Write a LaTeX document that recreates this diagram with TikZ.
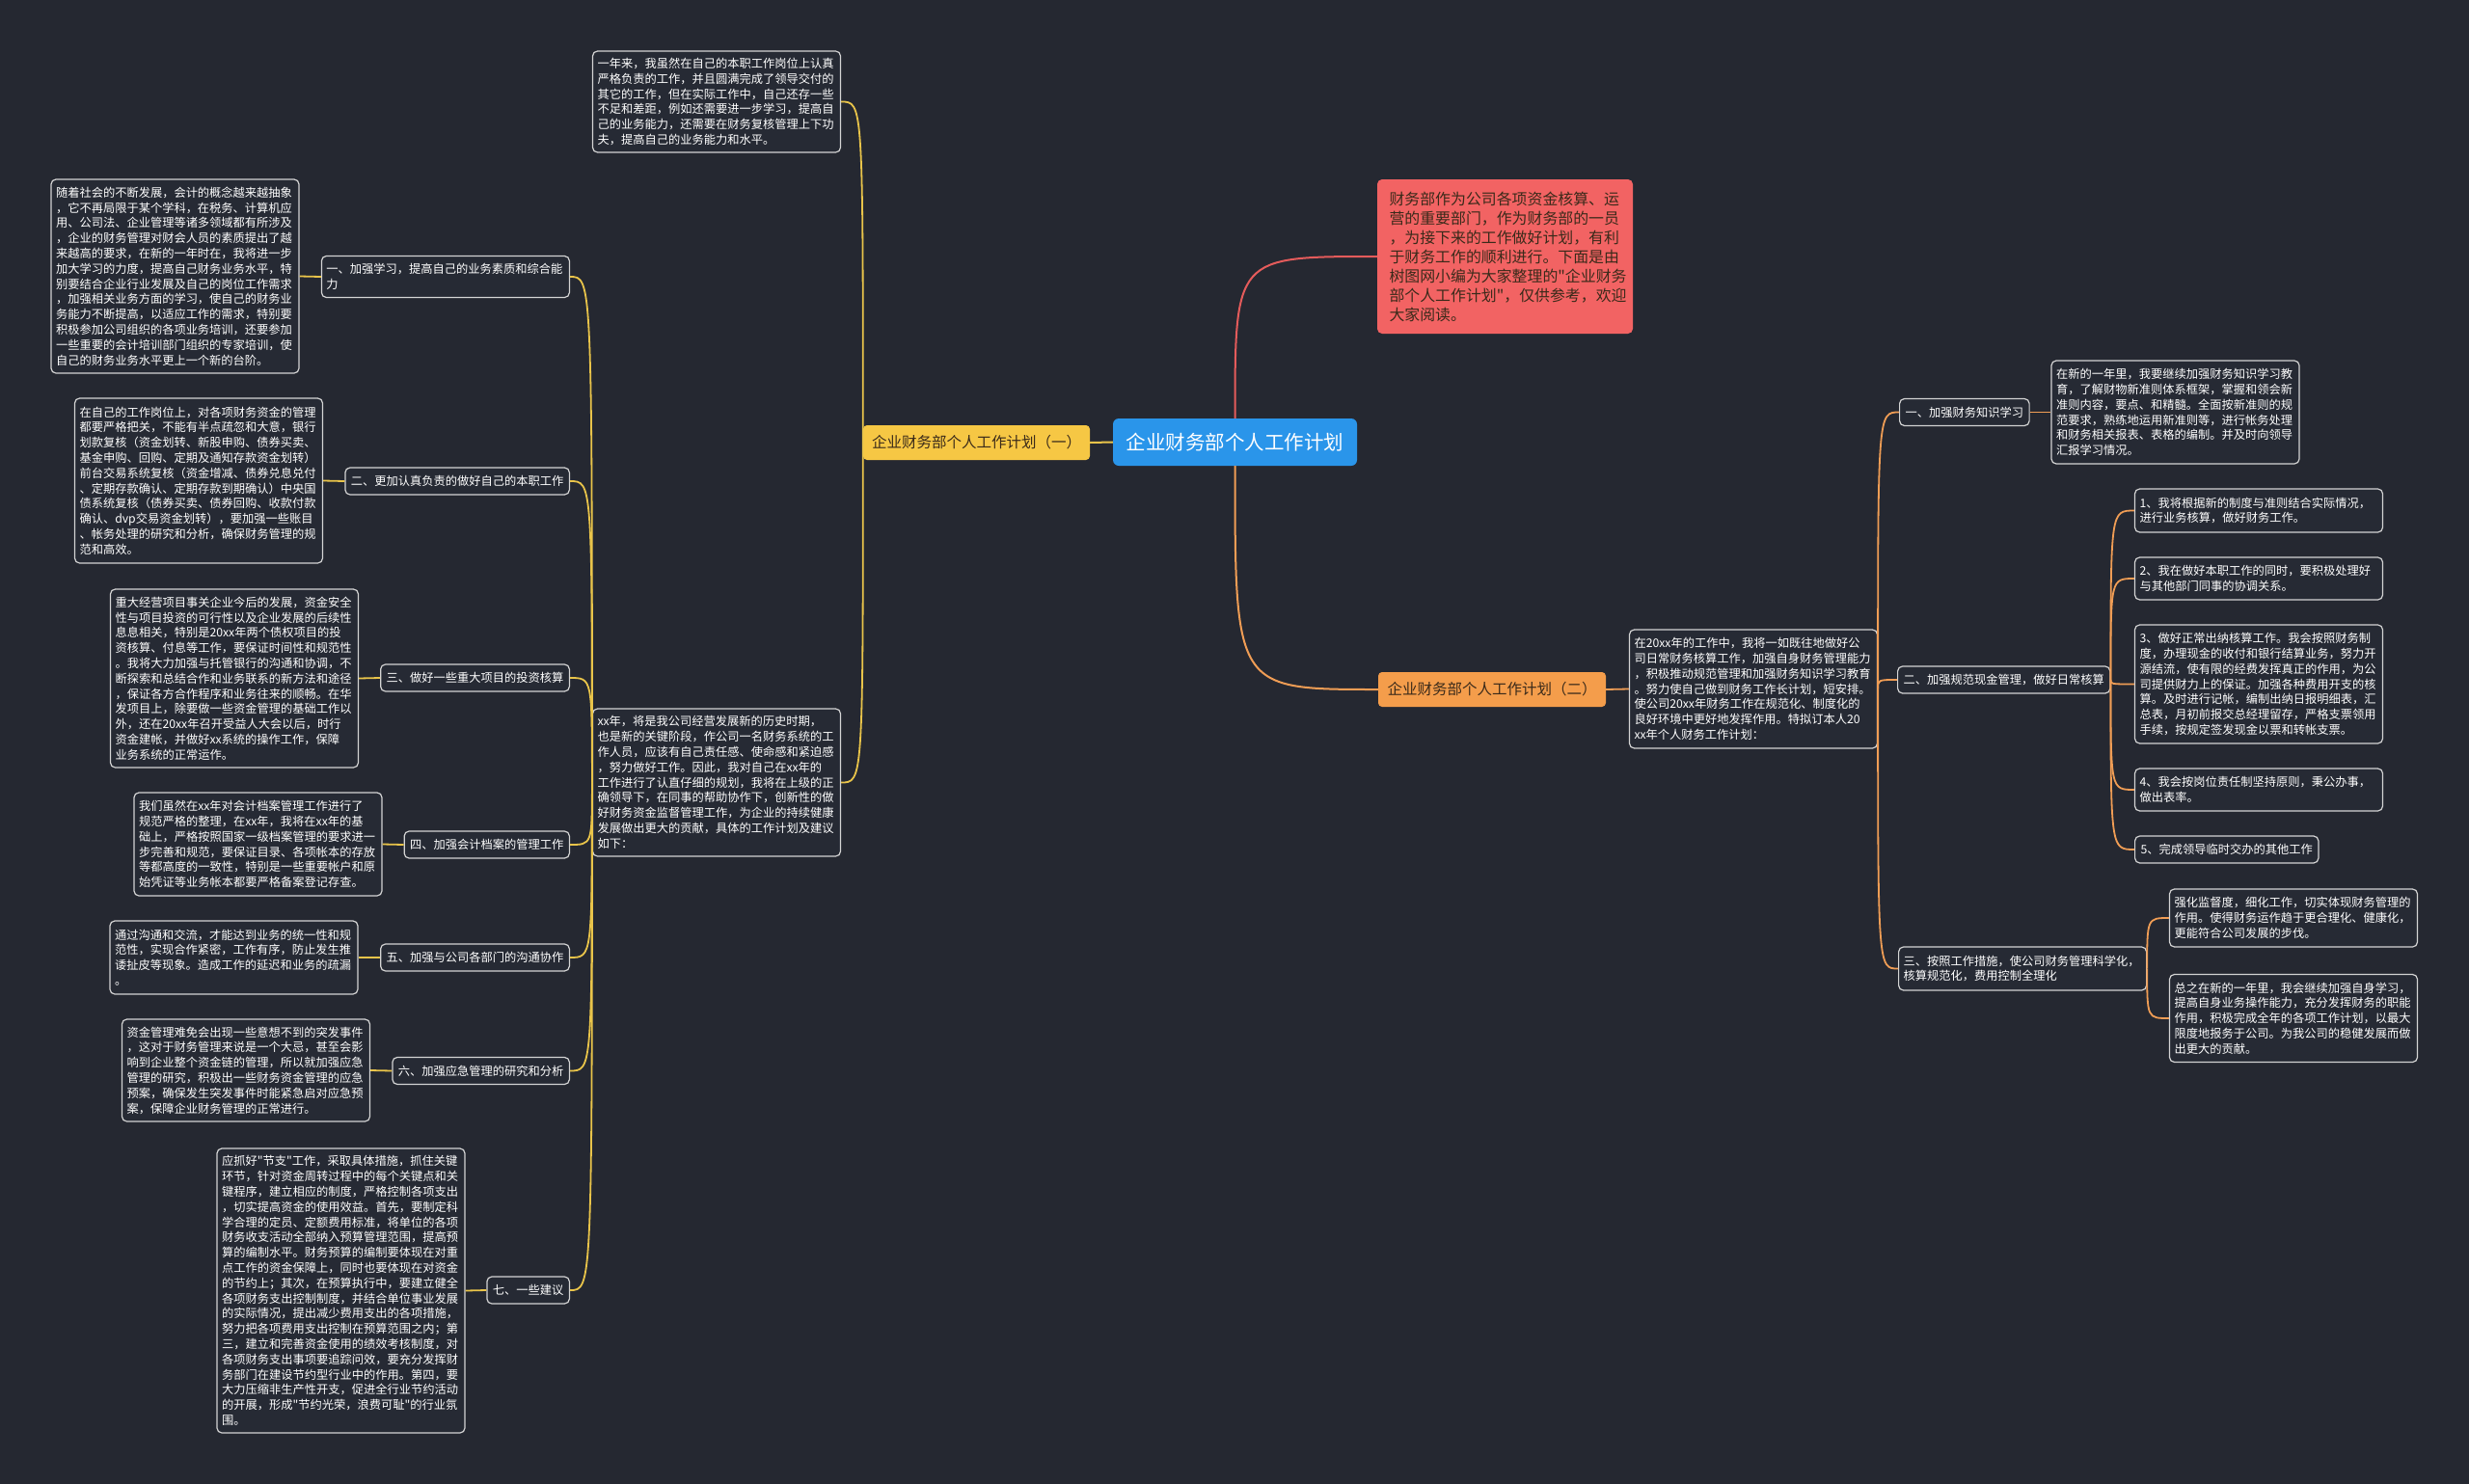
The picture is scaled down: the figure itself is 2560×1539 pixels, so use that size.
\documentclass[tikz,border=0pt]{standalone}
\usepackage{fontspec}
\newfontfamily\cjk{Noto Sans CJK SC}
\definecolor{bg}{HTML}{252831}
\definecolor{boxfill}{HTML}{262A34}
\definecolor{boxline}{HTML}{D4D4D4}
\definecolor{ylw}{HTML}{E9C44A}
\definecolor{org}{HTML}{F09D55}
\definecolor{rdl}{HTML}{E45B5B}
\definecolor{rootfill}{HTML}{2A95EA}
\definecolor{yelfill}{HTML}{F6C744}
\definecolor{orgfill}{HTML}{F49D4B}
\definecolor{redfill}{HTML}{F26363}
\definecolor{darktxt}{HTML}{3A2A1A}
\tikzset{
  blk/.style={draw=boxline, fill=boxfill, rounded corners=5pt, line width=1.2pt, text=white,
    font=\cjk\fontsize{12.25pt}{15.8pt}\selectfont, align=left, inner xsep=5pt, inner ysep=3pt},
  para/.style={blk, text width=247pt},
  lab/.style={blk, minimum height=28pt, inner xsep=6pt},
  yl/.style={draw=ylw, line width=1.8pt},
  ol/.style={draw=org, line width=1.8pt},
  rl/.style={draw=rdl, line width=2pt}
}
\begin{document}
\begin{tikzpicture}[x=1pt,y=-1pt]
\fill[bg] (0,0) rectangle (2560,1539);
\useasboundingbox (0,0) rectangle (2560,1539);

% root and main branches
\node[fill=rootfill, rounded corners=6pt, text=white, font=\cjk\fontsize{20.5pt}{24pt}\selectfont,
  minimum width=253pt, minimum height=49pt, inner sep=0pt] (root) at (1280.5,458.5) {企业财务部个人工作计划};
\node[fill=yelfill, rounded corners=4pt, text=darktxt, font=\cjk\fontsize{15.5pt}{18pt}\selectfont,
  minimum width=235pt, minimum height=36pt, inner sep=0pt] (yel) at (1012.5,459) {企业财务部个人工作计划（一）};
\node[fill=orgfill, rounded corners=4pt, text=darktxt, font=\cjk\fontsize{15.5pt}{18pt}\selectfont,
  minimum width=236pt, minimum height=36pt, inner sep=0pt] (orgn) at (1547,715) {企业财务部个人工作计划（二）};
\node[fill=redfill, rounded corners=5pt, text=darktxt, font=\cjk\fontsize{15.9pt}{20pt}\selectfont,
  align=left, text width=240pt, inner xsep=12.5pt, inner ysep=3pt, minimum height=160pt] (red) at (1560.5,266) {财务部作为公司各项资金核算、运\\营的重要部门，作为财务部的一员\\，为接下来的工作做好计划，有利\\于财务工作的顺利进行。下面是由\\树图网小编为大家整理的"企业财务\\部个人工作计划"，仅供参考，欢迎\\大家阅读。};

% yellow branch
\node[para, minimum height=105pt] (T0) at (743,105.5) {一年来，我虽然在自己的本职工作岗位上认真\\严格负责的工作，并且圆满完成了领导交付的\\其它的工作，但在实际工作中，自己还存一些\\不足和差距，例如还需要进一步学习，提高自\\己的业务能力，还需要在财务复核管理上下功\\夫，提高自己的业务能力和水平。};
\node[para, minimum height=153pt] (C) at (743,811.5) {xx年，将是我公司经营发展新的历史时期，\\也是新的关键阶段，作公司一名财务系统的工\\作人员，应该有自己责任感、使命感和紧迫感\\，努力做好工作。因此，我对自己在xx年的\\工作进行了认直仔细的规划，我将在上级的正\\确领导下，在同事的帮助协作下，创新性的做\\好财务资金监督管理工作，为企业的持续健康\\发展做出更大的贡献，具体的工作计划及建议\\如下：};

\node[para, minimum height=43pt, anchor=east] (n1) at (591,287) {一、加强学习，提高自己的业务素质和综合能\\力};
\node[para, minimum height=201pt] (L1) at (181.5,286.5) {随着社会的不断发展，会计的概念越来越抽象\\，它不再局限于某个学科，在税务、计算机应\\用、公司法、企业管理等诸多领域都有所涉及\\，企业的财务管理对财会人员的素质提出了越\\来越高的要求，在新的一年时在，我将进一步\\加大学习的力度，提高自己财务业务水平，特\\别要结合企业行业发展及自己的岗位工作需求\\，加强相关业务方面的学习，使自己的财务业\\务能力不断提高，以适应工作的需求，特别要\\积极参加公司组织的各项业务培训，还要参加\\一些重要的会计培训部门组织的专家培训，使\\自己的财务业务水平更上一个新的台阶。};

\node[lab, anchor=east] (n2) at (591,499) {二、更加认真负责的做好自己的本职工作};
\node[para, minimum height=171pt] (L2) at (206,498.5) {在自己的工作岗位上，对各项财务资金的管理\\都要严格把关，不能有半点疏忽和大意，银行\\划款复核（资金划转、新股申购、债券买卖、\\基金申购、回购、定期及通知存款资金划转）\\前台交易系统复核（资金增减、债券兑息兑付\\、定期存款确认、定期存款到期确认）中央国\\债系统复核（债券买卖、债券回购、收款付款\\确认、dvp交易资金划转），要加强一些账目\\、帐务处理的研究和分析，确保财务管理的规\\范和高效。};

\node[lab, anchor=east] (n3) at (591,703) {三、做好一些重大项目的投资核算};
\node[para, minimum height=185pt] (L3) at (243,703.5) {重大经营项目事关企业今后的发展，资金安全\\性与项目投资的可行性以及企业发展的后续性\\息息相关，特别是20xx年两个债权项目的投\\资核算、付息等工作，要保证时间性和规范性\\。我将大力加强与托管银行的沟通和协调，不\\断探索和总结合作和业务联系的新方法和途径\\，保证各方合作程序和业务往来的顺畅。在华\\发项目上，除要做一些资金管理的基础工作以\\外，还在20xx年召开受益人大会以后，时行\\资金建帐，并做好xx系统的操作工作，保障\\业务系统的正常运作。};

\node[lab, anchor=east] (n4) at (591,876) {四、加强会计档案的管理工作};
\node[para, minimum height=107pt] (L4) at (267.5,875.5) {我们虽然在xx年对会计档案管理工作进行了\\规范严格的整理，在xx年，我将在xx年的基\\础上，严格按照国家一级档案管理的要求进一\\步完善和规范，要保证目录、各项帐本的存放\\等都高度的一致性，特别是一些重要帐户和原\\始凭证等业务帐本都要严格备案登记存查。};

\node[lab, anchor=east] (n5) at (591,993) {五、加强与公司各部门的沟通协作};
\node[para, minimum height=76pt] (L5) at (242.5,993) {通过沟通和交流，才能达到业务的统一性和规\\范性，实现合作紧密，工作有序，防止发生推\\诿扯皮等现象。造成工作的延迟和业务的疏漏\\。};

\node[lab, anchor=east] (n6) at (591,1110.5) {六、加强应急管理的研究和分析};
\node[para, minimum height=106pt] (L6) at (255,1110) {资金管理难免会出现一些意想不到的突发事件\\，这对于财务管理来说是一个大忌，甚至会影\\响到企业整个资金链的管理，所以就加强应急\\管理的研究，积极出一些财务资金管理的应急\\预案，确保发生突发事件时能紧急启对应急预\\案，保障企业财务管理的正常进行。};

\node[lab, anchor=east] (n7) at (591,1338) {七、一些建议};
\node[para, minimum height=295pt] (L7) at (353.5,1338.5) {应抓好"节支"工作，采取具体措施，抓住关键\\环节，针对资金周转过程中的每个关键点和关\\键程序，建立相应的制度，严格控制各项支出\\，切实提高资金的使用效益。首先，要制定科\\学合理的定员、定额费用标准，将单位的各项\\财务收支活动全部纳入预算管理范围，提高预\\算的编制水平。财务预算的编制要体现在对重\\点工作的资金保障上，同时也要体现在对资金\\的节约上；其次，在预算执行中，要建立健全\\各项财务支出控制制度，并结合单位事业发展\\的实际情况，提出减少费用支出的各项措施，\\努力把各项费用支出控制在预算范围之内；第\\三，建立和完善资金使用的绩效考核制度，对\\各项财务支出事项要追踪问效，要充分发挥财\\务部门在建设节约型行业中的作用。第四，要\\大力压缩非生产性开支，促进全行业节约活动\\的开展，形成"节约光荣，浪费可耻"的行业氛\\围。};

% orange branch
\node[para, minimum height=123pt] (R) at (1818,714.5) {在20xx年的工作中，我将一如既往地做好公\\司日常财务核算工作，加强自身财务管理能力\\，积极推动规范管理和加强财务知识学习教育\\。努力使自己做到财务工作长计划，短安排。\\使公司20xx年财务工作在规范化、制度化的\\良好环境中更好地发挥作用。特拟订本人20\\xx年个人财务工作计划：};

\node[lab, anchor=west] (R1) at (1969,427.5) {一、加强财务知识学习};
\node[para, minimum height=107pt] (R1t) at (2255.5,427.5) {在新的一年里，我要继续加强财务知识学习教\\育，了解财物新准则体系框架，掌握和领会新\\准则内容，要点、和精髓。全面按新准则的规\\范要求，熟练地运用新准则等，进行帐务处理\\和财务相关报表、表格的编制。并及时向领导\\汇报学习情况。};

\node[lab, anchor=west] (R2) at (1967,705) {二、加强规范现金管理，做好日常核算};
\node[para, minimum height=45pt] (i1) at (2342,529.5) {1、我将根据新的制度与准则结合实际情况，\\进行业务核算，做好财务工作。};
\node[para, minimum height=44pt] (i2) at (2342,600) {2、我在做好本职工作的同时，要积极处理好\\与其他部门同事的协调关系。};
\node[para, minimum height=123pt] (i3) at (2342,709.5) {3、做好正常出纳核算工作。我会按照财务制\\度，办理现金的收付和银行结算业务，努力开\\源结流，使有限的经费发挥真正的作用，为公\\司提供财力上的保证。加强各种费用开支的核\\算。及时进行记帐，编制出纳日报明细表，汇\\总表，月初前报交总经理留存，严格支票领用\\手续，按规定签发现金以票和转帐支票。};
\node[para, minimum height=44pt] (i4) at (2342,819) {4、我会按岗位责任制坚持原则，秉公办事，\\做出表率。};
\node[lab, anchor=west] (i5) at (2213,881) {5、完成领导临时交办的其他工作};

\node[para, minimum height=45pt, anchor=west] (R3) at (1968,1004.5) {三、按照工作措施，使公司财务管理科学化，\\核算规范化，费用控制全理化};
\node[para, minimum height=60pt] (R3a) at (2378,952) {强化监督度，细化工作，切实体现财务管理的\\作用。使得财务运作趋于更合理化、健康化，\\更能符合公司发展的步伐。};
\node[para, minimum height=91pt] (R3b) at (2378,1056) {总之在新的一年里，我会继续加强自身学习，\\提高自身业务操作能力，充分发挥财务的职能\\作用，积极完成全年的各项工作计划，以最大\\限度地报务于公司。为我公司的稳健发展而做\\出更大的贡献。};

% connectors
\begin{scope}[on background layer/.style={}]
\end{scope}
\draw[yl, line width=2pt] (root.west) -- (yel.east);
\draw[rl] (root.north) .. controls (root.north |- red.west) .. (red.west);
\draw[ol, line width=2pt] (root.south) .. controls (root.south |- orgn.west) .. (orgn.west);

\draw[yl] (yel.west) .. controls (yel.west |- T0.east) .. (T0.east);
\draw[yl] (yel.west) .. controls (yel.west |- C.east) .. (C.east);
\foreach \n/\l in {n1/L1,n2/L2,n3/L3,n4/L4,n5/L5,n6/L6,n7/L7}{
  \draw[yl] (C.west) .. controls (C.west |- \n.east) .. (\n.east);
  \draw[yl] (\n.west) -- (\l.east);
}

\draw[ol] (orgn.east) -- (R.west);
\foreach \n in {R1,R2,R3}{
  \draw[ol] (R.east) .. controls (R.east |- \n.west) .. (\n.west);
}
\draw[ol] (R1.east) -- (R1t.west);
\foreach \n in {i1,i2,i3,i4,i5}{
  \draw[ol] (R2.east) .. controls (R2.east |- \n.west) .. (\n.west);
}
\foreach \n in {R3a,R3b}{
  \draw[ol] (R3.east) .. controls (R3.east |- \n.west) .. (\n.west);
}
\end{tikzpicture}
\end{document}
